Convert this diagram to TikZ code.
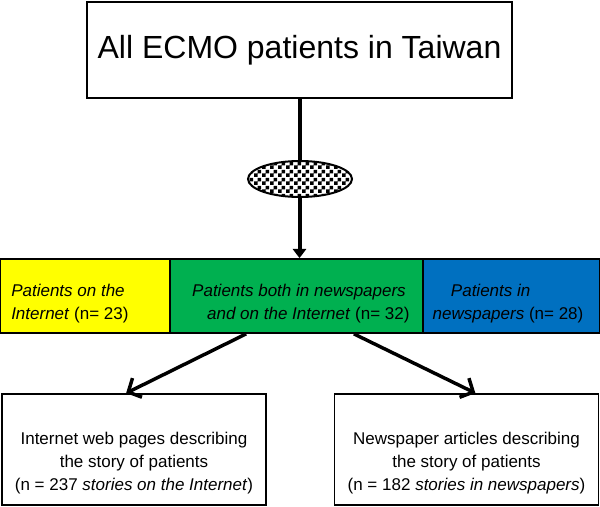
\documentclass[tikz,border=0pt]{standalone}
\usepackage{fontspec}
\setmainfont{Liberation Sans}
\usepackage{xcolor}
\usepackage{tikz}
\usetikzlibrary{shapes.geometric}
\usetikzlibrary{patterns}
\usetikzlibrary{arrows.meta}
\definecolor{bandyellow}{RGB}{255,255,0}
\definecolor{bandgreen}{RGB}{0,176,80}
\definecolor{bandblue}{RGB}{0,112,192}
\pgfdeclarepatternformonly{smallchecks}{\pgfpointorigin}{\pgfqpoint{5.6pt}{5.6pt}}{\pgfqpoint{5.6pt}{5.6pt}}{%
	\pgfpathrectangle{\pgfpointorigin}{\pgfqpoint{2.8pt}{2.8pt}}%
	\pgfpathrectangle{\pgfqpoint{2.8pt}{2.8pt}}{\pgfqpoint{2.8pt}{2.8pt}}%
	\pgfusepath{fill}}
\tikzset{	x=0.75pt, y=-0.75pt,
	titlebox/.style={
		draw, line width=1.3pt,
		minimum width=318.75pt, minimum height=72pt,
		font=\fontsize{24}{29}\selectfont},
	band/.style={
		draw, line width=1.3pt,
		minimum height=55.5pt, inner sep=0pt},
	bandtext/.style={
		align=center, inner sep=0pt,
		font=\fontsize{12.75}{17.25}\selectfont},
	storybox/.style={
		draw, line width=1.3pt,
		minimum width=198pt, minimum height=83.25pt},
	storytext/.style={
		align=center, inner sep=0pt,
		font=\fontsize{12.75}{17.25}\selectfont},
	selector/.style={
		ellipse, draw, line width=1.5pt,
		minimum width=78pt, minimum height=27pt,
		preaction={fill=white},
		pattern=smallchecks},
	flow/.style={
		line width=2.6pt,
		-{Straight Barb[length=7.5pt,width=16pt]}}
}
\begin{document}
\begin{tikzpicture}
				\useasboundingbox (0,0) rectangle (600,507);
				\node[titlebox] (all) at (299.5,50) {All ECMO patients in Taiwan};
				\node[band, fill=bandyellow, minimum width=127.5pt] (inet) at (85,296) {};
				\node[band, fill=bandgreen, minimum width=189.75pt] (both) at (296.5,296) {};
				\node[band, fill=bandblue, minimum width=132.75pt] (news) at (511.5,296) {};
				\node[bandtext, align=left, anchor=west] (inettxt) at (11,304) {\textit{Patients on the}\\ \textit{Internet} (n= 23)};
				\node[bandtext] (bothtxt) at (299,304) {\textit{Patients both in newspapers}\\ \hspace*{14pt}\textit{and on the Internet} (n= 32)};
				\node[bandtext] (newstxt) at (508,304) {\hspace*{-26pt}\textit{Patients in}\\ \textit{newspapers} (n= 28)};
				\node[storybox] (web) at (134,449.5) {};
				\node[storybox] (paper) at (466.5,449.5) {};
				\node[storytext] (webtxt) at (134,463) {Internet web pages describing\\ the story of patients\\ (n = 237 \textit{stories on the Internet})};
				\node[storytext] (papertxt) at (466.5,463) {Newspaper articles describing\\ the story of patients\\ (n = 182 \textit{stories in newspapers})};
				\draw[line width=3pt, -{Triangle[length=7pt,width=10pt]}] (all.south) -- (all.south |- both.north);
				\node[selector] (select) at (300,179) {};
				\draw[flow] ([xshift=57.75pt]both.south west) -- ([xshift=93.75pt]web.north west);
				\draw[flow] ([xshift=-52.5pt]both.south east) -- ([xshift=-93pt]paper.north east);
			\end{tikzpicture}
\end{document}
